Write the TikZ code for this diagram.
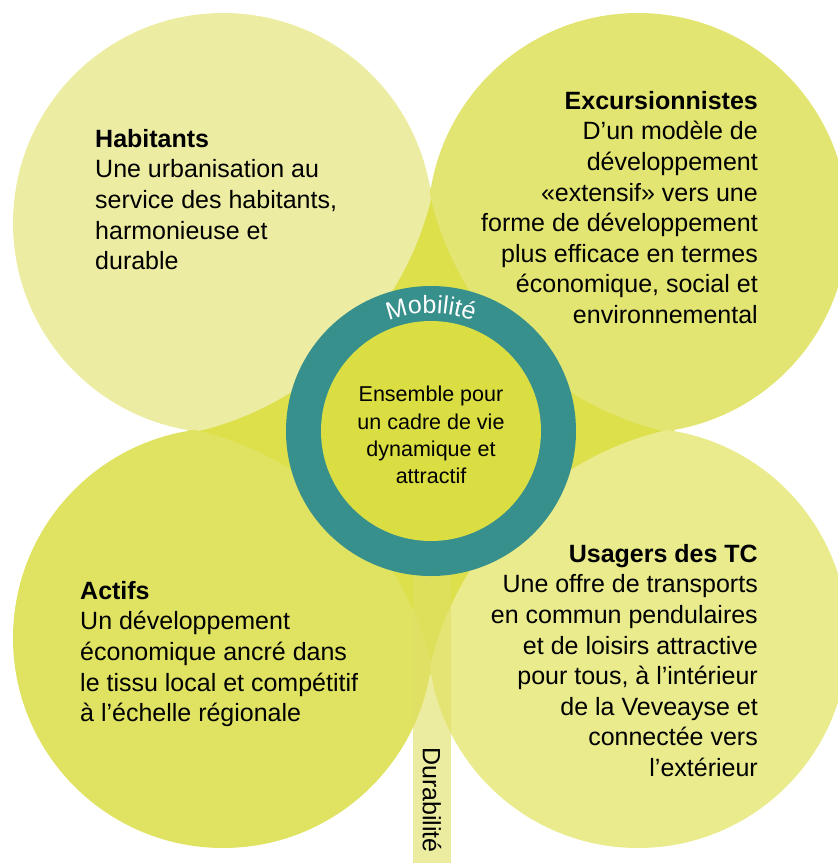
\documentclass[tikz,border=0pt]{standalone}
\usepackage{fontspec}
\setmainfont{Liberation Sans}
\usetikzlibrary{decorations.text}
\definecolor{darkc}{RGB}{221,224,74}
\definecolor{c1}{RGB}{236,237,162}
\definecolor{c2}{RGB}{227,229,114}
\definecolor{c3}{RGB}{224,227,98}
\definecolor{c4}{RGB}{233,235,141}
\definecolor{stripc}{RGB}{224,225,102}
\definecolor{teal}{RGB}{56,144,140}
\definecolor{innerc}{RGB}{219,222,66}
\tikzset{
  bigtext/.style={inner sep=0pt, font=\fontsize{25}{30.6}\selectfont, text=black},
  midtext/.style={inner sep=0pt, font=\fontsize{21.5}{27.2}\selectfont, text=black, align=center},
}
\begin{document}
\begin{tikzpicture}[x=1pt,y=-1pt]
\useasboundingbox (0,0) rectangle (838,863);
\coordinate (c) at (431,431);
% central background (star between the circles)
\fill[darkc] (c) circle[radius=243pt];
% four circles, each trimmed by a large cutter circle
\begin{scope}
  \clip (124,124) circle[radius=316pt];
  \fill[c1] (223,223) circle[radius=210pt];
\end{scope}
\begin{scope}
  \clip (738,124) circle[radius=316pt];
  \fill[c2] (638,223) circle[radius=210pt];
\end{scope}
\begin{scope}
  \clip (124,738) circle[radius=316pt];
  \fill[c3] (223,638) circle[radius=210pt];
\end{scope}
\begin{scope}
  \clip (738,738) circle[radius=316pt];
  \fill[c4] (638,638) circle[radius=210pt];
\end{scope}
% strip
\fill[stripc, fill opacity=0.62] (413,431) rectangle (451,863);
% ring
\fill[teal] (c) circle[radius=145pt];
\fill[innerc] (c) circle[radius=110pt];
\path[decorate, decoration={text along path, text align=center,
  text={|\color{white}\fontsize{25}{25}\selectfont|Mobilit{é}}}]
  ([shift={(c)}]150:118pt) arc[start angle=150, end angle=30, radius=118pt];
% texts
\node[bigtext, anchor=north west, align=left] (hab) at (95,129)
  {\textbf{Habitants}\\Une urbanisation au\\service des habitants,\\harmonieuse et\\durable};
\node[bigtext, anchor=north east, align=right] (exc) at (758,91)
  {\textbf{Excursionnistes}\\D’un modèle de\\développement\\«extensif» vers une\\forme de développement\\plus efficace en termes\\économique, social et\\environnemental};
\node[bigtext, anchor=north west, align=left] (act) at (80,581)
  {\textbf{Actifs}\\Un développement\\économique ancré dans\\le tissu local et compétitif\\à l’échelle régionale};
\node[bigtext, anchor=north east, align=right] (usa) at (758,544)
  {\textbf{Usagers des TC}\\Une offre de transports\\en commun pendulaires\\et de loisirs attractive\\pour tous, à l’intérieur\\de la Veveayse et\\connectée vers\\l’extérieur};
\node[midtext] (ens) at (431,435) {Ensemble pour\\un cadre de vie\\dynamique et\\attractif};
\node[bigtext, rotate=-90] (dur) at (432,800) {Durabilité};
\end{tikzpicture}
\end{document}
